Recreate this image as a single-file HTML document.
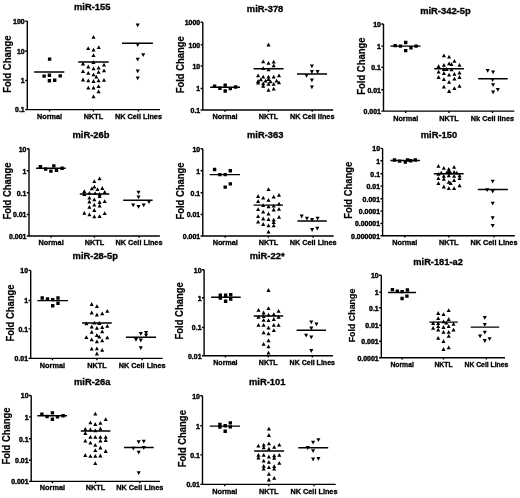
<!DOCTYPE html>
<html><head><meta charset="utf-8"><style>
html,body{margin:0;padding:0;background:#fff;}
svg{display:block;}
text{font-family:"Liberation Sans",sans-serif;font-weight:bold;fill:#000;stroke:#000;stroke-width:0.32px;}
.tk{font-size:6.95px;text-anchor:end;stroke-width:0.42px;}
.ct{font-size:7.3px;text-anchor:middle;}
.tt{font-size:9.4px;text-anchor:middle;}
.yl{font-size:9.6px;text-anchor:middle;stroke-width:0.2px;}
.ax{fill:none;stroke:#000;stroke-width:1.4;}
.md{fill:none;stroke:#000;stroke-width:1.45;}
.mk{fill:#000;stroke:none;}
</style></head><body>
<svg width="520" height="498" viewBox="0 0 520 498">
<defs><filter id="b" filterUnits="userSpaceOnUse" x="0" y="0" width="520" height="498"><feGaussianBlur stdDeviation="0.3"/></filter></defs>
<rect width="520" height="498" fill="#fff"/>
<g filter="url(#b)">
<path class="ax" d="M27.3 21.1V109.6H160M25.1 21.1H27.3M25.1 51H27.3M25.1 80.5H27.3M25.1 109.6H27.3M49.5 109.6V111.4M93.4 109.6V111.4M138.5 109.6V111.4"/>
<text class="tk" transform="translate(24.7 23.9) scale(1 1.07)">100</text>
<text class="tk" transform="translate(24.7 53.8) scale(1 1.07)">10</text>
<text class="tk" transform="translate(24.7 83.3) scale(1 1.07)">1</text>
<text class="tk" transform="translate(24.7 112.4) scale(1 1.07)">0.1</text>
<text class="ct" transform="translate(49.5 119) scale(1 1.05)">Normal</text>
<text class="ct" transform="translate(93.4 119) scale(1 1.05)">NKTL</text>
<text class="ct" transform="translate(138.5 119) scale(1 1.05)">NK Cell Lines</text>
<text class="tt" x="92.2" y="10.4">miR-155</text>
<text class="yl" transform="translate(10.6 64.1) rotate(-90) scale(0.985 1.08)">Fold Change</text>
<path class="md" d="M34.1 72H64.3M78.2 62H108.7M122 43.3H152.9"/>
<path class="mk" d="M47.9 57.4h3.4v3.4h-3.4zM42.4 74.4h3.4v3.4h-3.4zM47.7 73.5h3.4v3.4h-3.4zM58.5 74.2h3.4v3.4h-3.4zM47.7 79.1h3.4v3.4h-3.4zM53 78.5h3.4v3.4h-3.4zM93.5 34.92l2.05 3.8h-4.1zM88.2 46.22l2.05 3.8h-4.1zM93.5 47.72l2.05 3.8h-4.1zM98.8 45.32l2.05 3.8h-4.1zM93.5 53.32l2.05 3.8h-4.1zM93.4 60.12l2.05 3.8h-4.1zM83 61.62l2.05 3.8h-4.1zM88.3 64.62l2.05 3.8h-4.1zM93.5 66.52l2.05 3.8h-4.1zM98.6 65.72l2.05 3.8h-4.1zM104 62.72l2.05 3.8h-4.1zM83 69.22l2.05 3.8h-4.1zM88.3 70.92l2.05 3.8h-4.1zM93.5 72.42l2.05 3.8h-4.1zM98.6 70.02l2.05 3.8h-4.1zM104 68.42l2.05 3.8h-4.1zM83 77.62l2.05 3.8h-4.1zM88.3 78.52l2.05 3.8h-4.1zM93.5 79.12l2.05 3.8h-4.1zM96.3 74.72l2.05 3.8h-4.1zM98.6 78.52l2.05 3.8h-4.1zM104 78.02l2.05 3.8h-4.1zM88.3 85.82l2.05 3.8h-4.1zM93.5 85.82l2.05 3.8h-4.1zM98.6 84.32l2.05 3.8h-4.1zM98.6 89.42l2.05 3.8h-4.1zM93.5 94.42l2.05 3.8h-4.1zM137.7 27.28l2.05 -3.8h-4.1zM137.7 47.08l2.05 -3.8h-4.1zM143.2 57.08l2.05 -3.8h-4.1zM137.7 61.48l2.05 -3.8h-4.1zM137.7 73.18l2.05 -3.8h-4.1zM137.7 80.28l2.05 -3.8h-4.1z"/>
<path class="ax" d="M202.8 22.3V110H333.2M200.6 22.3H202.8M200.6 44.9H202.8M200.6 66H202.8M200.6 88.5H202.8M200.6 110H202.8M225 110V111.8M268.4 110V111.8M312.2 110V111.8"/>
<text class="tk" transform="translate(200.2 25.1) scale(1 1.07)">1000</text>
<text class="tk" transform="translate(200.2 47.7) scale(1 1.07)">100</text>
<text class="tk" transform="translate(200.2 68.8) scale(1 1.07)">10</text>
<text class="tk" transform="translate(200.2 91.3) scale(1 1.07)">1</text>
<text class="tk" transform="translate(200.2 112.8) scale(1 1.07)">0.1</text>
<text class="ct" transform="translate(225 119.1) scale(1 1.05)">Normal</text>
<text class="ct" transform="translate(268.4 119.1) scale(1 1.05)">NKTL</text>
<text class="ct" transform="translate(312.2 119.1) scale(1 1.05)">NK Cell lines</text>
<text class="tt" x="265.1" y="12.2">miR-378</text>
<text class="yl" transform="translate(184.2 64.8) rotate(-90) scale(0.985 1.08)">Fold Change</text>
<path class="md" d="M210.2 87.3H240M253.6 68.7H283.6M297 73.9H327.1"/>
<path class="mk" d="M212.9 84.5h3.4v3.4h-3.4zM218.2 86.5h3.4v3.4h-3.4zM223.5 83.4h3.4v3.4h-3.4zM223.5 89.3h3.4v3.4h-3.4zM228.6 86.9h3.4v3.4h-3.4zM233.9 85.3h3.4v3.4h-3.4zM268.5 42.62l2.05 3.8h-4.1zM263.2 59.52l2.05 3.8h-4.1zM268.5 61.02l2.05 3.8h-4.1zM273.7 59.82l2.05 3.8h-4.1zM273.7 63.42l2.05 3.8h-4.1zM263.2 66.32l2.05 3.8h-4.1zM268.5 67.52l2.05 3.8h-4.1zM258.1 73.52l2.05 3.8h-4.1zM263.2 74.82l2.05 3.8h-4.1zM268.5 74.82l2.05 3.8h-4.1zM273.7 74.82l2.05 3.8h-4.1zM279 73.52l2.05 3.8h-4.1zM258.1 79.12l2.05 3.8h-4.1zM260.8 77.52l2.05 3.8h-4.1zM265.6 78.82l2.05 3.8h-4.1zM268.5 77.22l2.05 3.8h-4.1zM270.5 79.42l2.05 3.8h-4.1zM276.6 78.82l2.05 3.8h-4.1zM258.1 80.72l2.05 3.8h-4.1zM263.2 81.52l2.05 3.8h-4.1zM263.2 83.92l2.05 3.8h-4.1zM268.5 82.02l2.05 3.8h-4.1zM273.7 82.02l2.05 3.8h-4.1zM279 80.42l2.05 3.8h-4.1zM268.5 87.92l2.05 3.8h-4.1zM273.7 86.82l2.05 3.8h-4.1zM311.9 68.18l2.05 -3.8h-4.1zM311.9 73.88l2.05 -3.8h-4.1zM317.6 73.88l2.05 -3.8h-4.1zM306.5 77.68l2.05 -3.8h-4.1zM311.9 82.28l2.05 -3.8h-4.1zM311.9 89.18l2.05 -3.8h-4.1z"/>
<path class="ax" d="M383.5 24V111.1H514.4M381.3 24H383.5M381.3 46.1H383.5M381.3 67.4H383.5M381.3 89.7H383.5M381.3 111.1H383.5M405.7 111.1V112.9M449 111.1V112.9M492.5 111.1V112.9"/>
<text class="tk" transform="translate(380.9 26.8) scale(1 1.07)">10</text>
<text class="tk" transform="translate(380.9 48.9) scale(1 1.07)">1</text>
<text class="tk" transform="translate(380.9 70.2) scale(1 1.07)">0.1</text>
<text class="tk" transform="translate(380.9 92.5) scale(1 1.07)">0.01</text>
<text class="tk" transform="translate(380.9 113.9) scale(1 1.07)">0.001</text>
<text class="ct" transform="translate(405.7 120.8) scale(1 1.05)">Normal</text>
<text class="ct" transform="translate(449 120.8) scale(1 1.05)">NKTL</text>
<text class="ct" transform="translate(492.5 120.8) scale(1 1.05)">Nk Cell lines</text>
<text class="tt" x="445.4" y="13.5">miR-342-5p</text>
<text class="yl" transform="translate(364.9 66.1) rotate(-90) scale(0.985 1.08)">Fold Change</text>
<path class="md" d="M390.4 46.1H420.6M434.3 68.8H463.9M478.2 78.7H507.7"/>
<path class="mk" d="M393.5 43.9h3.4v3.4h-3.4zM398.8 44.4h3.4v3.4h-3.4zM404 40.8h3.4v3.4h-3.4zM404 48.9h3.4v3.4h-3.4zM409.3 46h3.4v3.4h-3.4zM414.4 44.4h3.4v3.4h-3.4zM443.9 53.42l2.05 3.8h-4.1zM449.1 54.72l2.05 3.8h-4.1zM454.4 59.02l2.05 3.8h-4.1zM449.1 61.42l2.05 3.8h-4.1zM451.5 62.22l2.05 3.8h-4.1zM438.6 64.32l2.05 3.8h-4.1zM443.9 63.02l2.05 3.8h-4.1zM459.5 63.02l2.05 3.8h-4.1zM443.9 67.12l2.05 3.8h-4.1zM446.6 67.12l2.05 3.8h-4.1zM451.5 67.52l2.05 3.8h-4.1zM438.6 69.82l2.05 3.8h-4.1zM443.9 71.12l2.05 3.8h-4.1zM449.1 72.72l2.05 3.8h-4.1zM454.4 71.92l2.05 3.8h-4.1zM459.5 70.82l2.05 3.8h-4.1zM438.6 75.12l2.05 3.8h-4.1zM443.9 77.22l2.05 3.8h-4.1zM454.4 76.72l2.05 3.8h-4.1zM459.5 75.12l2.05 3.8h-4.1zM449.1 79.92l2.05 3.8h-4.1zM443.9 84.72l2.05 3.8h-4.1zM454.4 86.32l2.05 3.8h-4.1zM459.5 83.92l2.05 3.8h-4.1zM449.1 89.12l2.05 3.8h-4.1zM487.7 72.78l2.05 -3.8h-4.1zM493.1 74.28l2.05 -3.8h-4.1zM492.6 82.08l2.05 -3.8h-4.1zM493.1 87.08l2.05 -3.8h-4.1zM493.1 94.28l2.05 -3.8h-4.1zM497.8 91.78l2.05 -3.8h-4.1z"/>
<path class="ax" d="M29 148.7V236H159.9M26.8 148.7H29M26.8 170.7H29M26.8 192.7H29M26.8 214.5H29M26.8 236H29M51.1 236V237.8M94.4 236V237.8M139 236V237.8"/>
<text class="tk" transform="translate(26.4 151.5) scale(1 1.07)">10</text>
<text class="tk" transform="translate(26.4 173.5) scale(1 1.07)">1</text>
<text class="tk" transform="translate(26.4 195.5) scale(1 1.07)">0.1</text>
<text class="tk" transform="translate(26.4 217.3) scale(1 1.07)">0.01</text>
<text class="tk" transform="translate(26.4 238.8) scale(1 1.07)">0.001</text>
<text class="ct" transform="translate(51.1 245.3) scale(1 1.05)">Normal</text>
<text class="ct" transform="translate(94.4 245.3) scale(1 1.05)">NKTL</text>
<text class="ct" transform="translate(139 245.3) scale(1 1.05)">NK Cell Lines</text>
<text class="tt" x="91" y="138.2">miR-26b</text>
<text class="yl" transform="translate(10.6 191) rotate(-90) scale(0.985 1.08)">Fold Change</text>
<path class="md" d="M36.1 168.3H65.7M79.8 194H109.3M123.2 200.2H152.6"/>
<path class="mk" d="M38.7 164.9h3.4v3.4h-3.4zM44 167.4h3.4v3.4h-3.4zM49.2 169.4h3.4v3.4h-3.4zM52.1 164.2h3.4v3.4h-3.4zM54.8 168.6h3.4v3.4h-3.4zM60.4 166.6h3.4v3.4h-3.4zM99.6 176.52l2.05 3.8h-4.1zM94.3 179.22l2.05 3.8h-4.1zM94.3 184.82l2.05 3.8h-4.1zM91.8 186.42l2.05 3.8h-4.1zM97.5 187.22l2.05 3.8h-4.1zM102.3 186.12l2.05 3.8h-4.1zM84.3 189.32l2.05 3.8h-4.1zM84.3 192.12l2.05 3.8h-4.1zM89.4 190.92l2.05 3.8h-4.1zM95.1 191.32l2.05 3.8h-4.1zM99.6 192.12l2.05 3.8h-4.1zM104.7 190.02l2.05 3.8h-4.1zM99.6 194.12l2.05 3.8h-4.1zM89.4 195.82l2.05 3.8h-4.1zM94.3 197.42l2.05 3.8h-4.1zM89.4 199.62l2.05 3.8h-4.1zM99.6 200.12l2.05 3.8h-4.1zM104.7 199.32l2.05 3.8h-4.1zM94.3 202.82l2.05 3.8h-4.1zM99.6 203.82l2.05 3.8h-4.1zM89.4 204.92l2.05 3.8h-4.1zM94.3 208.12l2.05 3.8h-4.1zM84.3 210.92l2.05 3.8h-4.1zM89.4 212.52l2.05 3.8h-4.1zM104.7 211.32l2.05 3.8h-4.1zM94.3 214.52l2.05 3.8h-4.1zM99.6 214.22l2.05 3.8h-4.1zM138.5 194.48l2.05 -3.8h-4.1zM138.5 199.28l2.05 -3.8h-4.1zM133.2 207.28l2.05 -3.8h-4.1zM138.5 208.78l2.05 -3.8h-4.1zM143.7 207.28l2.05 -3.8h-4.1zM149 204.08l2.05 -3.8h-4.1z"/>
<path class="ax" d="M202.8 148.7V236H333.7M200.6 148.7H202.8M200.6 170.7H202.8M200.6 192.7H202.8M200.6 214.5H202.8M200.6 236H202.8M225.2 236V237.8M268.4 236V237.8M313.2 236V237.8"/>
<text class="tk" transform="translate(200.2 151.5) scale(1 1.07)">10</text>
<text class="tk" transform="translate(200.2 173.5) scale(1 1.07)">1</text>
<text class="tk" transform="translate(200.2 195.5) scale(1 1.07)">0.1</text>
<text class="tk" transform="translate(200.2 217.3) scale(1 1.07)">0.01</text>
<text class="tk" transform="translate(200.2 238.8) scale(1 1.07)">0.001</text>
<text class="ct" transform="translate(225.2 245.1) scale(1 1.05)">Normal</text>
<text class="ct" transform="translate(268.4 245.1) scale(1 1.05)">NKTL</text>
<text class="ct" transform="translate(313.2 245.1) scale(1 1.05)">NK Cell Lines</text>
<text class="tt" x="265.2" y="138.2">miR-363</text>
<text class="yl" transform="translate(184.3 191) rotate(-90) scale(0.985 1.08)">Fold Change</text>
<path class="md" d="M209.7 174.6H240M253.6 205.1H283M297.4 221H326.8"/>
<path class="mk" d="M212.9 167.8h3.4v3.4h-3.4zM218.2 172.9h3.4v3.4h-3.4zM223.5 172.9h3.4v3.4h-3.4zM228.6 169h3.4v3.4h-3.4zM223.5 185.4h3.4v3.4h-3.4zM228.6 182.2h3.4v3.4h-3.4zM268.5 187.22l2.05 3.8h-4.1zM258.1 194.12l2.05 3.8h-4.1zM263.2 195.82l2.05 3.8h-4.1zM273.7 194.82l2.05 3.8h-4.1zM279 192.92l2.05 3.8h-4.1zM258.1 199.32l2.05 3.8h-4.1zM268.5 198.02l2.05 3.8h-4.1zM263.2 203.32l2.05 3.8h-4.1zM268.5 204.42l2.05 3.8h-4.1zM273.7 203.82l2.05 3.8h-4.1zM279 201.72l2.05 3.8h-4.1zM258.1 207.32l2.05 3.8h-4.1zM273.7 207.62l2.05 3.8h-4.1zM279 207.02l2.05 3.8h-4.1zM263.2 209.72l2.05 3.8h-4.1zM268.5 211.82l2.05 3.8h-4.1zM258.1 214.22l2.05 3.8h-4.1zM279 215.02l2.05 3.8h-4.1zM263.2 216.62l2.05 3.8h-4.1zM268.5 217.32l2.05 3.8h-4.1zM273.7 217.82l2.05 3.8h-4.1zM258.1 219.82l2.05 3.8h-4.1zM273.7 220.22l2.05 3.8h-4.1zM263.2 222.12l2.05 3.8h-4.1zM268.5 223.42l2.05 3.8h-4.1zM273.7 223.42l2.05 3.8h-4.1zM268.5 229.82l2.05 3.8h-4.1zM301.7 218.38l2.05 -3.8h-4.1zM306.9 220.48l2.05 -3.8h-4.1zM312.1 221.88l2.05 -3.8h-4.1zM317.6 220.48l2.05 -3.8h-4.1zM312.1 231.88l2.05 -3.8h-4.1zM317.3 230.58l2.05 -3.8h-4.1z"/>
<path class="ax" d="M382.6 148.4V235.8H514.8M380.4 148.4H382.6M380.4 160.7H382.6M380.4 173.7H382.6M380.4 186.1H382.6M380.4 198.7H382.6M380.4 211.1H382.6M380.4 223.5H382.6M380.4 235.8H382.6M404.8 235.8V237.6M448.8 235.8V237.6M494 235.8V237.6"/>
<text class="tk" transform="translate(380 151.2) scale(1 1.07)">10</text>
<text class="tk" transform="translate(380 163.5) scale(1 1.07)">1</text>
<text class="tk" transform="translate(380 176.5) scale(1 1.07)">0.1</text>
<text class="tk" transform="translate(380 188.9) scale(1 1.07)">0.01</text>
<text class="tk" transform="translate(380 201.5) scale(1 1.07)">0.001</text>
<text class="tk" transform="translate(380 213.9) scale(1 1.07)">0.0001</text>
<text class="tk" transform="translate(380 226.3) scale(1 1.07)">0.00001</text>
<text class="tk" transform="translate(380 238.6) scale(1 1.07)">0.000001</text>
<text class="ct" transform="translate(404.8 244.9) scale(1 1.05)">Normal</text>
<text class="ct" transform="translate(448.8 244.9) scale(1 1.05)">NKTL</text>
<text class="ct" transform="translate(494 244.9) scale(1 1.05)">NK Cell Lines</text>
<text class="tt" x="439" y="137.6">miR-150</text>
<text class="yl" transform="translate(352.1 190.3) rotate(-90) scale(0.985 1.08)">Fold Change</text>
<path class="md" d="M390.4 160.5H419.9M433.8 173.8H463.7M477.8 189.4H507.9"/>
<path class="mk" d="M392.8 158.3h3.4v3.4h-3.4zM397.9 159.4h3.4v3.4h-3.4zM403.6 160.3h3.4v3.4h-3.4zM405.9 158.3h3.4v3.4h-3.4zM409 159.1h3.4v3.4h-3.4zM413.6 158.3h3.4v3.4h-3.4zM438.4 163.92l2.05 3.8h-4.1zM443.8 165.92l2.05 3.8h-4.1zM448.8 166.92l2.05 3.8h-4.1zM454.1 164.92l2.05 3.8h-4.1zM448.8 169.22l2.05 3.8h-4.1zM446.8 170.52l2.05 3.8h-4.1zM450.7 170.82l2.05 3.8h-4.1zM438.4 172.02l2.05 3.8h-4.1zM441.2 170.82l2.05 3.8h-4.1zM454.1 170.02l2.05 3.8h-4.1zM456.8 170.82l2.05 3.8h-4.1zM438.4 176.22l2.05 3.8h-4.1zM443.8 173.92l2.05 3.8h-4.1zM443.8 176.92l2.05 3.8h-4.1zM448.8 173.52l2.05 3.8h-4.1zM454.1 173.92l2.05 3.8h-4.1zM459.6 173.52l2.05 3.8h-4.1zM459.6 176.22l2.05 3.8h-4.1zM454.1 178.22l2.05 3.8h-4.1zM438.4 181.22l2.05 3.8h-4.1zM448.8 180.02l2.05 3.8h-4.1zM450.7 181.22l2.05 3.8h-4.1zM443.8 184.62l2.05 3.8h-4.1zM448.8 186.22l2.05 3.8h-4.1zM454.1 186.22l2.05 3.8h-4.1zM459.6 183.42l2.05 3.8h-4.1zM492.7 183.48l2.05 -3.8h-4.1zM487.2 192.08l2.05 -3.8h-4.1zM492.7 193.48l2.05 -3.8h-4.1zM492.7 205.58l2.05 -3.8h-4.1zM492.7 219.98l2.05 -3.8h-4.1zM492.7 227.68l2.05 -3.8h-4.1z"/>
<path class="ax" d="M30.7 270.4V358.4H162.7M28.5 270.4H30.7M28.5 300.5H30.7M28.5 328.9H30.7M28.5 358.4H30.7M52.4 358.4V360.2M96.9 358.4V360.2M142.2 358.4V360.2"/>
<text class="tk" transform="translate(28.1 273.2) scale(1 1.07)">10</text>
<text class="tk" transform="translate(28.1 303.3) scale(1 1.07)">1</text>
<text class="tk" transform="translate(28.1 331.7) scale(1 1.07)">0.1</text>
<text class="tk" transform="translate(28.1 361.2) scale(1 1.07)">0.01</text>
<text class="ct" transform="translate(52.4 367.9) scale(1 1.05)">Normal</text>
<text class="ct" transform="translate(96.9 367.9) scale(1 1.05)">NKTL</text>
<text class="ct" transform="translate(142.2 367.9) scale(1 1.05)">NK Cell Lines</text>
<text class="tt" x="95.25" y="259.1">miR-28-5p</text>
<text class="yl" transform="translate(13.8 313) rotate(-90) scale(0.985 1.08)">Fold Change</text>
<path class="md" d="M37.4 300.6H68M82.1 323H111.8M125.9 337.3H156.1"/>
<path class="mk" d="M40.5 296.3h3.4v3.4h-3.4zM45.8 297.3h3.4v3.4h-3.4zM51 297.9h3.4v3.4h-3.4zM51 304h3.4v3.4h-3.4zM56.3 296.3h3.4v3.4h-3.4zM56.3 301.6h3.4v3.4h-3.4zM91.7 302.12l2.05 3.8h-4.1zM96.9 304.22l2.05 3.8h-4.1zM91.7 310.62l2.05 3.8h-4.1zM96.9 312.72l2.05 3.8h-4.1zM102.2 311.42l2.05 3.8h-4.1zM107.3 309.02l2.05 3.8h-4.1zM86.4 321.42l2.05 3.8h-4.1zM94.5 320.82l2.05 3.8h-4.1zM99.3 321.12l2.05 3.8h-4.1zM91.7 324.62l2.05 3.8h-4.1zM96.9 325.92l2.05 3.8h-4.1zM102.2 325.12l2.05 3.8h-4.1zM107.3 324.02l2.05 3.8h-4.1zM91.7 329.92l2.05 3.8h-4.1zM102.2 329.42l2.05 3.8h-4.1zM96.9 333.12l2.05 3.8h-4.1zM99.3 334.72l2.05 3.8h-4.1zM86.4 335.22l2.05 3.8h-4.1zM91.7 337.52l2.05 3.8h-4.1zM96.9 339.52l2.05 3.8h-4.1zM102.2 338.42l2.05 3.8h-4.1zM107.3 335.52l2.05 3.8h-4.1zM91.7 346.82l2.05 3.8h-4.1zM96.9 346.52l2.05 3.8h-4.1zM102.2 347.92l2.05 3.8h-4.1zM96.9 351.62l2.05 3.8h-4.1zM140.8 335.68l2.05 -3.8h-4.1zM146.1 334.78l2.05 -3.8h-4.1zM146.1 337.58l2.05 -3.8h-4.1zM136 341.78l2.05 -3.8h-4.1zM140.8 342.38l2.05 -3.8h-4.1zM140.8 349.98l2.05 -3.8h-4.1z"/>
<path class="ax" d="M204.1 269.8V355.8H332.9M201.9 269.8H204.1M201.9 297.8H204.1M201.9 327.5H204.1M201.9 355.8H204.1M225.4 355.8V357.6M268.2 355.8V357.6M312.3 355.8V357.6"/>
<text class="tk" transform="translate(201.5 272.6) scale(1 1.07)">10</text>
<text class="tk" transform="translate(201.5 300.6) scale(1 1.07)">1</text>
<text class="tk" transform="translate(201.5 330.3) scale(1 1.07)">0.1</text>
<text class="tk" transform="translate(201.5 358.6) scale(1 1.07)">0.01</text>
<text class="ct" transform="translate(225.4 364.5) scale(1 1.05)" style="font-size:7.05px">Normal</text>
<text class="ct" transform="translate(268.2 364.5) scale(1 1.05)" style="font-size:7.05px">NKTL</text>
<text class="ct" transform="translate(312.3 364.5) scale(1 1.05)" style="font-size:7.05px">NK Cell Lines</text>
<text class="tt" x="267.1" y="259">miR-22*</text>
<text class="yl" transform="translate(182.9 310.9) rotate(-90) scale(0.985 1.08)">Fold Change</text>
<path class="md" d="M211.1 297.2H240.7M253.7 316H283.2M296.6 330.2H326"/>
<path class="mk" d="M218.6 293.6h3.4v3.4h-3.4zM218.6 296.3h3.4v3.4h-3.4zM223.9 293.6h3.4v3.4h-3.4zM223.9 299.5h3.4v3.4h-3.4zM229 293.1h3.4v3.4h-3.4zM229 297.3h3.4v3.4h-3.4zM268.5 288.12l2.05 3.8h-4.1zM258.5 307.92l2.05 3.8h-4.1zM268.5 306.32l2.05 3.8h-4.1zM278.6 309.02l2.05 3.8h-4.1zM263.6 310.62l2.05 3.8h-4.1zM258.5 315.02l2.05 3.8h-4.1zM263.6 314.32l2.05 3.8h-4.1zM268.5 312.72l2.05 3.8h-4.1zM273.8 312.22l2.05 3.8h-4.1zM278.6 315.02l2.05 3.8h-4.1zM263.6 317.92l2.05 3.8h-4.1zM268.5 318.22l2.05 3.8h-4.1zM273.8 317.12l2.05 3.8h-4.1zM258.5 323.02l2.05 3.8h-4.1zM263.6 323.02l2.05 3.8h-4.1zM273.8 323.02l2.05 3.8h-4.1zM278.6 323.02l2.05 3.8h-4.1zM268.5 325.62l2.05 3.8h-4.1zM273.8 328.32l2.05 3.8h-4.1zM263.6 330.42l2.05 3.8h-4.1zM268.5 331.52l2.05 3.8h-4.1zM268.5 338.42l2.05 3.8h-4.1zM263.6 342.02l2.05 3.8h-4.1zM268.5 344.42l2.05 3.8h-4.1zM268.5 350.82l2.05 3.8h-4.1zM311.3 324.28l2.05 -3.8h-4.1zM316.5 326.18l2.05 -3.8h-4.1zM311.3 330.38l2.05 -3.8h-4.1zM306.1 337.58l2.05 -3.8h-4.1zM311.3 339.18l2.05 -3.8h-4.1zM311.3 352.88l2.05 -3.8h-4.1z"/>
<path class="ax" d="M381.3 275.2V357.8H505M379.1 275.2H381.3M379.1 292.1H381.3M379.1 307.8H381.3M379.1 325.2H381.3M379.1 341.3H381.3M379.1 357.8H381.3M402.1 357.8V359.6M443.5 357.8V359.6M486.4 357.8V359.6"/>
<text class="tk" transform="translate(378.7 278) scale(1 1.07)">10</text>
<text class="tk" transform="translate(378.7 294.9) scale(1 1.07)">1</text>
<text class="tk" transform="translate(378.7 310.6) scale(1 1.07)">0.1</text>
<text class="tk" transform="translate(378.7 328) scale(1 1.07)">0.01</text>
<text class="tk" transform="translate(378.7 344.1) scale(1 1.07)">0.001</text>
<text class="tk" transform="translate(378.7 360.6) scale(1 1.07)">0.0001</text>
<text class="ct" transform="translate(402.1 366.9) scale(1 1.05)" style="font-size:6.8px">Normal</text>
<text class="ct" transform="translate(443.5 366.9) scale(1 1.05)" style="font-size:6.8px">NKTL</text>
<text class="ct" transform="translate(486.4 366.9) scale(1 1.05)" style="font-size:6.8px">NK Cell Lines</text>
<text class="tt" x="438.1" y="264.8" style="font-size:9.3px">miR-181-a2</text>
<text class="yl" transform="translate(354.9 315.5) rotate(-90) scale(0.985 1.08)" style="font-size:9.0px">Fold Change</text>
<path class="md" d="M388.1 292.4H416.1M429.4 322.1H457.7M470.7 327.1H499.2"/>
<path class="mk" d="M390.7 287.9h3.4v3.4h-3.4zM395.6 289.5h3.4v3.4h-3.4zM400.4 289.9h3.4v3.4h-3.4zM405.7 288.3h3.4v3.4h-3.4zM400.4 296.8h3.4v3.4h-3.4zM405.2 294.4h3.4v3.4h-3.4zM448.7 308.22l2.05 3.8h-4.1zM438.2 311.12l2.05 3.8h-4.1zM443.5 312.22l2.05 3.8h-4.1zM438.2 316.32l2.05 3.8h-4.1zM448.7 317.12l2.05 3.8h-4.1zM433.1 321.12l2.05 3.8h-4.1zM438.2 321.12l2.05 3.8h-4.1zM443.5 319.52l2.05 3.8h-4.1zM446.3 320.82l2.05 3.8h-4.1zM453.5 321.92l2.05 3.8h-4.1zM433.1 325.92l2.05 3.8h-4.1zM438.2 324.32l2.05 3.8h-4.1zM438.2 327.82l2.05 3.8h-4.1zM443.5 325.12l2.05 3.8h-4.1zM448.7 324.32l2.05 3.8h-4.1zM453.5 327.82l2.05 3.8h-4.1zM443.5 329.92l2.05 3.8h-4.1zM448.7 329.92l2.05 3.8h-4.1zM448.7 333.92l2.05 3.8h-4.1zM438.2 335.92l2.05 3.8h-4.1zM443.5 339.12l2.05 3.8h-4.1zM443.5 347.12l2.05 3.8h-4.1zM448.7 345.52l2.05 3.8h-4.1zM484.8 319.78l2.05 -3.8h-4.1zM484.8 326.68l2.05 -3.8h-4.1zM484.8 334.58l2.05 -3.8h-4.1zM480.1 338.18l2.05 -3.8h-4.1zM484.8 342.88l2.05 -3.8h-4.1zM489.6 341.08l2.05 -3.8h-4.1z"/>
<path class="ax" d="M31.2 395.5V481.4H160M29 395.5H31.2M29 416.9H31.2M29 438.8H31.2M29 460.3H31.2M29 481.4H31.2M52.4 481.4V483.2M95.5 481.4V483.2M139.8 481.4V483.2"/>
<text class="tk" transform="translate(28.6 398.3) scale(1 1.07)">10</text>
<text class="tk" transform="translate(28.6 419.7) scale(1 1.07)">1</text>
<text class="tk" transform="translate(28.6 441.6) scale(1 1.07)">0.1</text>
<text class="tk" transform="translate(28.6 463.1) scale(1 1.07)">0.01</text>
<text class="tk" transform="translate(28.6 484.2) scale(1 1.07)">0.001</text>
<text class="ct" transform="translate(52.4 490.3) scale(1 1.05)">Normal</text>
<text class="ct" transform="translate(95.5 490.3) scale(1 1.05)">NKTL</text>
<text class="ct" transform="translate(139.8 490.3) scale(1 1.05)">NK Cell Lines</text>
<text class="tt" x="92.25" y="384.6">miR-26a</text>
<text class="yl" transform="translate(10.2 436) rotate(-90) scale(0.985 1.08)">Fold Change</text>
<path class="md" d="M37.4 415.7H67.1M80.8 431H110.4M123.9 447.4H153.7"/>
<path class="mk" d="M40.2 412.4h3.4v3.4h-3.4zM45.4 414.8h3.4v3.4h-3.4zM50.7 411.2h3.4v3.4h-3.4zM50.7 417.6h3.4v3.4h-3.4zM55.8 415.2h3.4v3.4h-3.4zM61.4 414h3.4v3.4h-3.4zM95.3 411.82l2.05 3.8h-4.1zM105.7 417.32l2.05 3.8h-4.1zM90.4 420.52l2.05 3.8h-4.1zM95.3 422.12l2.05 3.8h-4.1zM100.4 421.02l2.05 3.8h-4.1zM85.3 426.92l2.05 3.8h-4.1zM90.4 427.42l2.05 3.8h-4.1zM95.3 428.52l2.05 3.8h-4.1zM100.4 426.62l2.05 3.8h-4.1zM85.3 431.12l2.05 3.8h-4.1zM90.4 435.02l2.05 3.8h-4.1zM95.3 435.02l2.05 3.8h-4.1zM100.4 435.02l2.05 3.8h-4.1zM105.7 435.02l2.05 3.8h-4.1zM85.3 438.72l2.05 3.8h-4.1zM100.4 438.72l2.05 3.8h-4.1zM105.7 438.22l2.05 3.8h-4.1zM90.4 440.82l2.05 3.8h-4.1zM95.3 443.02l2.05 3.8h-4.1zM100.4 445.62l2.05 3.8h-4.1zM95.3 448.32l2.05 3.8h-4.1zM105.7 449.12l2.05 3.8h-4.1zM85.3 453.12l2.05 3.8h-4.1zM90.4 453.92l2.05 3.8h-4.1zM95.3 453.92l2.05 3.8h-4.1zM100.4 453.62l2.05 3.8h-4.1zM95.3 461.22l2.05 3.8h-4.1zM138.7 443.98l2.05 -3.8h-4.1zM143.8 443.58l2.05 -3.8h-4.1zM133.4 450.48l2.05 -3.8h-4.1zM138.7 454.48l2.05 -3.8h-4.1zM143.8 449.88l2.05 -3.8h-4.1zM138.7 475.08l2.05 -3.8h-4.1z"/>
<path class="ax" d="M202.5 395.7V484.4H335.7M200.3 395.7H202.5M200.3 425.8H202.5M200.3 454.9H202.5M200.3 484.4H202.5M224.8 484.4V486.2M268.8 484.4V486.2M314 484.4V486.2"/>
<text class="tk" transform="translate(199.9 398.5) scale(1 1.07)">10</text>
<text class="tk" transform="translate(199.9 428.6) scale(1 1.07)">1</text>
<text class="tk" transform="translate(199.9 457.7) scale(1 1.07)">0.1</text>
<text class="tk" transform="translate(199.9 487.2) scale(1 1.07)">0.01</text>
<text class="ct" transform="translate(224.8 494) scale(1 1.05)">Normal</text>
<text class="ct" transform="translate(268.8 494) scale(1 1.05)">NKTL</text>
<text class="ct" transform="translate(314 494) scale(1 1.05)">NK Cell Lines</text>
<text class="tt" x="267.2" y="385.2">miR-101</text>
<text class="yl" transform="translate(186 438.7) rotate(-90) scale(0.985 1.08)">Fold Change</text>
<path class="md" d="M209.7 426.1H240M254.1 450.9H284.1M298.3 447.8H328.2"/>
<path class="mk" d="M218.2 422.8h3.4v3.4h-3.4zM218.2 425.3h3.4v3.4h-3.4zM223.5 424h3.4v3.4h-3.4zM223.5 429.5h3.4v3.4h-3.4zM228.6 421.2h3.4v3.4h-3.4zM228.6 425.2h3.4v3.4h-3.4zM268.9 426.72l2.05 3.8h-4.1zM268.9 433.12l2.05 3.8h-4.1zM258.4 443.82l2.05 3.8h-4.1zM263.7 442.72l2.05 3.8h-4.1zM263.7 445.52l2.05 3.8h-4.1zM268.9 441.42l2.05 3.8h-4.1zM268.9 446.72l2.05 3.8h-4.1zM274.2 445.02l2.05 3.8h-4.1zM279.3 442.72l2.05 3.8h-4.1zM258.4 453.02l2.05 3.8h-4.1zM258.4 455.62l2.05 3.8h-4.1zM263.7 453.02l2.05 3.8h-4.1zM268.9 454.62l2.05 3.8h-4.1zM274.2 453.52l2.05 3.8h-4.1zM274.2 455.92l2.05 3.8h-4.1zM279.3 453.02l2.05 3.8h-4.1zM263.7 458.82l2.05 3.8h-4.1zM268.9 459.92l2.05 3.8h-4.1zM279.3 461.02l2.05 3.8h-4.1zM263.7 463.92l2.05 3.8h-4.1zM263.7 466.82l2.05 3.8h-4.1zM268.9 465.22l2.05 3.8h-4.1zM274.2 464.22l2.05 3.8h-4.1zM274.2 466.82l2.05 3.8h-4.1zM268.9 472.02l2.05 3.8h-4.1zM274.2 476.02l2.05 3.8h-4.1zM268.9 477.62l2.05 3.8h-4.1zM313.1 444.58l2.05 -3.8h-4.1zM318.4 442.08l2.05 -3.8h-4.1zM307.8 449.88l2.05 -3.8h-4.1zM313.1 453.08l2.05 -3.8h-4.1zM313.1 461.38l2.05 -3.8h-4.1zM318.4 460.78l2.05 -3.8h-4.1z"/>
</g>
</svg>
</body></html>
